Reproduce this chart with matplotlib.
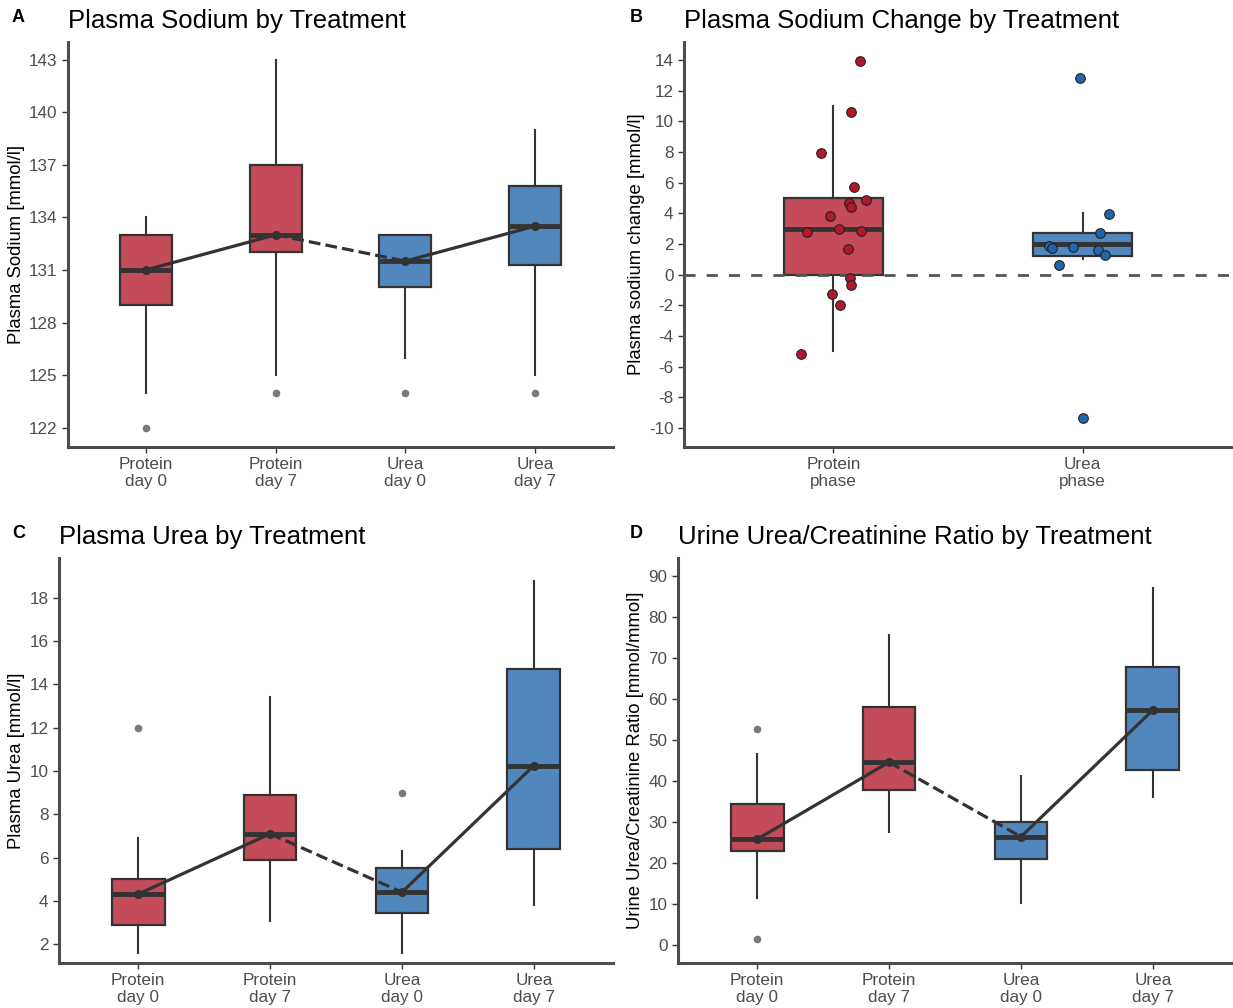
import matplotlib
matplotlib.use("Agg")
import matplotlib.pyplot as plt
from matplotlib.colors import to_rgba

plt.rcParams['font.family'] = ['Liberation Sans', 'DejaVu Sans']
plt.rcParams['axes.unicode_minus'] = False

# categorias
grupos = ["Protein\nday 0", "Protein\nday 7", "Urea\nday 0", "Urea\nday 7"]
fases = ["Protein\nphase", "Urea\nphase"]

# A - sodio plasmatico (estatisticas dos boxplots)
na_q1 = [129, 132, 130, 131.3]
na_med = [131, 133, 131.5, 133.5]
na_q3 = [133, 137, 133, 135.8]
na_lo = [124, 125, 126, 125]
na_hi = [134, 143, 133, 139]
na_out = [[122], [124], [124], [124]]

# B - variacao do sodio por fase
dna_q1 = [0, 1.22]
dna_med = [3.0, 2.0]
dna_q3 = [5.0, 2.74]
dna_lo = [-5.0, 1.02]
dna_hi = [11.0, 4.0]
prot_pts = [13.9, 10.6, 7.9, 5.7, 4.7, 4.85, 4.4, 3.8, 2.8, 2.95, 2.85, 1.65,
            -0.25, -0.7, -1.25, -1.95, -5.15]
prot_jitter = [0.108, 0.071, -0.048, 0.084, 0.061, 0.132, 0.069, -0.015, -0.108,
               0.023, 0.111, 0.059, 0.065, 0.072, -0.004, 0.028, -0.132]
urea_pts = [12.8, 3.98, 2.72, 1.89, 1.74, 1.82, 1.63, 1.26, 0.61, -9.37]
urea_jitter = [-0.01, 0.107, 0.069, -0.134, -0.124, -0.037, 0.063, 0.091, -0.093, 0.0]

# C - ureia plasmatica
ur_q1 = [2.89, 5.9, 3.43, 6.4]
ur_med = [4.31, 7.1, 4.4, 10.25]
ur_q3 = [5.02, 8.9, 5.51, 14.72]
ur_lo = [1.58, 3.09, 1.58, 3.8]
ur_hi = [6.9, 13.4, 6.3, 18.8]
ur_out = [[12.0], [], [9.0], []]

# D - razao ureia/creatinina na urina
rz_q1 = [22.9, 37.6, 20.8, 42.6]
rz_med = [25.7, 44.5, 26.3, 57.2]
rz_q3 = [34.3, 57.9, 30.0, 67.8]
rz_lo = [11.4, 27.4, 10.2, 36.1]
rz_hi = [46.4, 75.5, 41.2, 87.0]
rz_out = [[52.6, 1.3], [], [], []]

RED = '#B2182B'
BLUE = '#2166AC'
EDGE = '#333333'
W, H = 1233, 1008


def stats(q1, med, q3, lo, hi, out=None):
    if out is None:
        out = [[] for _ in q1]
    return [dict(q1=a, med=b, q3=c, whislo=d, whishi=e, fliers=f)
            for a, b, c, d, e, f in zip(q1, med, q3, lo, hi, out)]


def caixas(ax, st, cores):
    pos = list(range(1, len(st) + 1))
    bp = ax.bxp(st, positions=pos, widths=0.4, patch_artist=True, showcaps=False,
                boxprops=dict(edgecolor=EDGE, linewidth=1.6),
                medianprops=dict(color=EDGE, linewidth=3.5, solid_capstyle='butt'),
                whiskerprops=dict(color=EDGE, linewidth=1.5),
                flierprops=dict(marker='o', markerfacecolor='#7a7a7a',
                                markeredgecolor='none', markersize=5.5))
    for p, c in zip(bp['boxes'], cores):
        p.set_facecolor(to_rgba(c, 0.78))
    return pos


def linhas(ax, pos, med):
    kw = dict(color=EDGE, lw=2.3, zorder=5)
    ax.plot(pos[0:2], med[0:2], '-', marker='o', ms=5.5, **kw)
    ax.plot(pos[1:3], med[1:3], '--', **kw)
    ax.plot(pos[2:4], med[2:4], '-', marker='o', ms=5.5, **kw)


def estilo(ax, titulo, ylabel, rotulos):
    for s in ['top', 'right']:
        ax.spines[s].set_visible(False)
    for s in ['left', 'bottom']:
        ax.spines[s].set_linewidth(2.2)
        ax.spines[s].set_color('#4d4d4d')
    ax.tick_params(color='#333333', labelcolor='#4d4d4d', labelsize=12.3,
                   length=4, width=1)
    ax.set_xticks(range(1, len(rotulos) + 1))
    ax.set_xticklabels(rotulos, linespacing=1.15)
    ax.set_xlim(0.4, len(rotulos) + 0.6)
    ax.set_title(titulo, loc='left', fontsize=18.5, pad=10)
    ax.set_ylabel(ylabel, fontsize=13.3, labelpad=3)


fig = plt.figure(figsize=(W / 100, H / 100), dpi=100)

def eixo(x0, y0, x1, y1):
    return fig.add_axes([x0 / W, 1 - y1 / H, (x1 - x0) / W, (y1 - y0) / H])

axA = eixo(68, 42, 613, 447)
axB = eixo(684, 42, 1232, 447)
axC = eixo(59, 558, 613, 963)
axD = eixo(678, 558, 1232, 963)

cores4 = [RED, RED, BLUE, BLUE]

# A
pos = caixas(axA, stats(na_q1, na_med, na_q3, na_lo, na_hi, na_out), cores4)
linhas(axA, pos, na_med)
estilo(axA, "Plasma Sodium by Treatment", "Plasma Sodium [mmol/l]", grupos)
axA.set_ylim(120.9, 144.0)
axA.set_yticks(range(122, 144, 3))

# B
caixas(axB, stats(dna_q1, dna_med, dna_q3, dna_lo, dna_hi), [RED, BLUE])
axB.axhline(0, color='#555555', lw=2, ls=(0, (4, 4)), zorder=4)
axB.scatter([1 + j for j in prot_jitter], prot_pts, s=48, color=RED,
            edgecolor='#222222', linewidth=0.8, zorder=6)
axB.scatter([2 + j for j in urea_jitter], urea_pts, s=48, color=BLUE,
            edgecolor='#222222', linewidth=0.8, zorder=6)
estilo(axB, "Plasma Sodium Change by Treatment", "Plasma sodium change [mmol/l]", fases)
axB.set_ylim(-11.24, 15.17)
axB.set_yticks(range(-10, 15, 2))

# C
pos = caixas(axC, stats(ur_q1, ur_med, ur_q3, ur_lo, ur_hi, ur_out), cores4)
linhas(axC, pos, ur_med)
estilo(axC, "Plasma Urea by Treatment", "Plasma Urea [mmol/l]", grupos)
axC.set_ylim(1.13, 19.84)
axC.set_yticks(range(2, 19, 2))

# D
pos = caixas(axD, stats(rz_q1, rz_med, rz_q3, rz_lo, rz_hi, rz_out), cores4)
linhas(axD, pos, rz_med)
estilo(axD, "Urine Urea/Creatinine Ratio by Treatment",
       "Urine Urea/Creatinine Ratio [mmol/mmol]", grupos)
axD.set_ylim(-4.5, 94.3)
axD.set_yticks(range(0, 91, 10))

for letra, x, y in [("A", 12, 17), ("B", 630, 17), ("C", 12, 533), ("D", 630, 533)]:
    fig.text(x / W, 1 - y / H, letra, fontsize=13, fontweight='bold', va='center')

fig.savefig("out.png", dpi=100)
